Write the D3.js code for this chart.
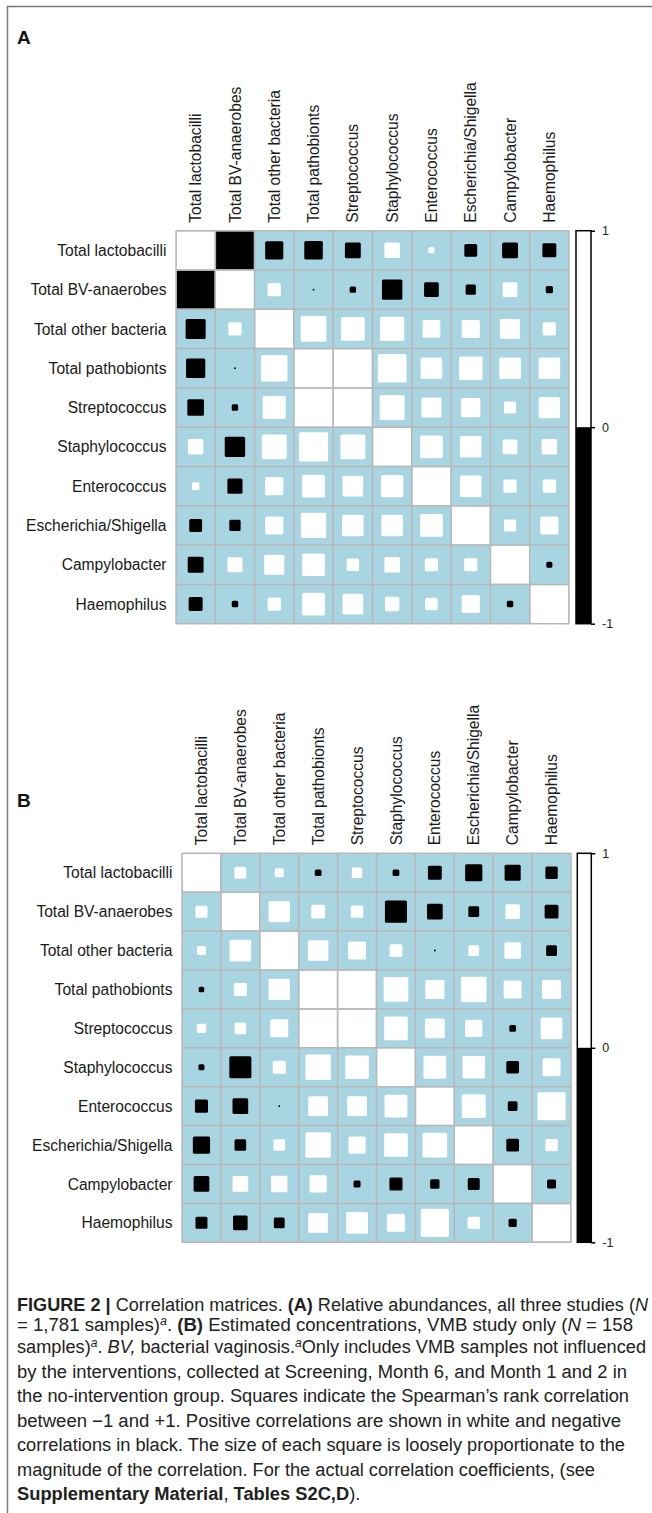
<!DOCTYPE html>
<html><head><meta charset="utf-8">
<script src="https://cdn.jsdelivr.net/npm/d3@7"></script>
<style>body{margin:0;background:#fff} svg{display:block}</style>
</head><body>
<svg id="c" width="652" height="1513"></svg>
<script>
// ---------- data ----------
const taxa = ["Total lactobacilli","Total BV-anaerobes","Total other bacteria","Total pathobionts","Streptococcus","Staphylococcus","Enterococcus","Escherichia/Shigella","Campylobacter","Haemophilus"];

// Panel A: relative abundances (approximate Spearman rho, read from square sizes)
const corrA = [
  [ 1.00,-1.00,-0.48,-0.49,-0.42, 0.41, 0.16,-0.34,-0.42,-0.37],
  [-1.00, 1.00, 0.35,-0.05,-0.17,-0.54,-0.39,-0.27, 0.39,-0.19],
  [-0.53, 0.35, 1.00, 0.68, 0.63, 0.64, 0.47, 0.48, 0.53, 0.35],
  [-0.51,-0.05, 0.70, 1.00, 1.00, 0.76, 0.57, 0.62, 0.57, 0.57],
  [-0.44,-0.17, 0.61, 1.00, 1.00, 0.66, 0.53, 0.51, 0.32, 0.56],
  [ 0.41,-0.54, 0.66, 0.77, 0.66, 1.00, 0.60, 0.57, 0.39, 0.41],
  [ 0.20,-0.40, 0.48, 0.60, 0.55, 0.59, 1.00, 0.57, 0.35, 0.35],
  [-0.34,-0.30, 0.48, 0.67, 0.57, 0.57, 0.60, 1.00, 0.32, 0.48],
  [-0.42, 0.40, 0.53, 0.60, 0.33, 0.41, 0.35, 0.35, 1.00,-0.16],
  [-0.37,-0.17, 0.35, 0.60, 0.55, 0.38, 0.33, 0.48,-0.17, 1.00]
];

// Panel B: estimated concentrations
const corrB = [
  [ 1.00, 0.32, 0.24,-0.18, 0.28,-0.18,-0.37,-0.46,-0.43,-0.33],
  [ 0.32, 1.00, 0.57, 0.37, 0.33,-0.59,-0.42,-0.29, 0.39,-0.37],
  [ 0.24, 0.58, 1.00, 0.55, 0.48, 0.34,-0.05, 0.29, 0.44,-0.29],
  [-0.15, 0.35, 0.57, 1.00, 1.00, 0.66, 0.51, 0.68, 0.48, 0.51],
  [ 0.25, 0.31, 0.48, 1.00, 1.00, 0.63, 0.53, 0.46,-0.18, 0.58],
  [-0.16,-0.59, 0.35, 0.68, 0.63, 1.00, 0.61, 0.60,-0.34, 0.48],
  [-0.35,-0.42,-0.05, 0.53, 0.53, 0.61, 1.00, 0.64,-0.26, 0.75],
  [-0.46,-0.31, 0.31, 0.68, 0.46, 0.63, 0.66, 1.00,-0.34, 0.33],
  [-0.42, 0.42, 0.44, 0.46,-0.19,-0.35,-0.25,-0.32, 1.00,-0.24],
  [-0.32,-0.39,-0.29, 0.53, 0.58, 0.48, 0.75, 0.33,-0.22, 1.00]
];

const legendTicks = [1, 0, -1];
const panelLabels = ["A", "B"];

// caption lines: segments [text, style]  (b = bold, i = italic, s = superscript italic)
const captionLines = [
  [["FIGURE 2 |","b"],[" Correlation matrices. ",""],["(A)","b"],[" Relative abundances, all three studies (",""],["N","i"]],
  [["= 1,781 samples)",""],["a","s"],[". ",""],["(B)","b"],[" Estimated concentrations, VMB study only (",""],["N","i"],[" = 158",""]],
  [["samples)",""],["a","s"],[". ",""],["BV,","i"],[" bacterial vaginosis.",""],["a","s"],["Only includes VMB samples not influenced",""]],
  [["by the interventions, collected at Screening, Month 6, and Month 1 and 2 in",""]],
  [["the no-intervention group. Squares indicate the Spearman\u2019s rank correlation",""]],
  [["between \u22121 and +1. Positive correlations are shown in white and negative",""]],
  [["correlations in black. The size of each square is loosely proportionate to the",""]],
  [["magnitude of the correlation. For the actual correlation coefficients, (see",""]],
  [["Supplementary Material","b"],[", ",""],["Tables S2C,D","b"],[").",""]]
];
const captionEnds = [648, 633, 646, 627, 629, 621, 625, 595, null];
const captionBaselines = [1311, 1331, 1353, 1377.5, 1402, 1426.5, 1451, 1475.5, 1500];

// ---------- drawing ----------
const svg = d3.select("#c");
const FONT = "'Liberation Sans', Arial, Helvetica, sans-serif";

// frame
svg.append("path").attr("d","M7.5,1513 V6.5 H652")
  .attr("fill","none").attr("stroke","#7a7a7a").attr("stroke-width",1.5);

const layouts = [
  {data: corrA, x0:176, y0:230.7, size:393, labelY:44, barX:576, barW:15},
  {data: corrB, x0:182, y0:853.3, size:389, labelY:807, barX:577.3, barW:14}
];

layouts.forEach((L, pi) => {
  const g = svg.append("g");
  g.append("text").attr("x",17).attr("y",L.labelY)
    .attr("font-family",FONT).attr("font-weight","bold").attr("font-size",19)
    .attr("fill","#111").text(panelLabels[pi]);

  const x = d3.scaleBand().domain(d3.range(taxa.length)).range([L.x0, L.x0+L.size]);
  const y = d3.scaleBand().domain(d3.range(taxa.length)).range([L.y0, L.y0+L.size]);
  const bw = x.bandwidth();
  const side = d3.scaleLinear().domain([0,1]).range([0, bw-1.5]);

  const cells = [];
  L.data.forEach((row,i)=>row.forEach((v,j)=>cells.push({i,j,v})));

  // background
  g.append("rect").attr("x",L.x0).attr("y",L.y0).attr("width",L.size).attr("height",L.size)
    .attr("fill","#a9d5e3");

  // squares
  g.selectAll("rect.sq").data(cells).join("rect").attr("class","sq")
    .attr("x", d => x(d.j) + bw/2 - side(Math.abs(d.v))/2)
    .attr("y", d => y(d.i) + bw/2 - side(Math.abs(d.v))/2)
    .attr("width", d => side(Math.abs(d.v)))
    .attr("height", d => side(Math.abs(d.v)))
    .attr("rx", d => Math.abs(d.v) > 0.95 ? 0 : 1.5)
    .attr("fill", d => d.v >= 0 ? "#ffffff" : "#000000");

  // grid lines
  const lines = d3.range(taxa.length+1).map(k => L.x0 + k*bw);
  g.selectAll("line.v").data(lines).join("line").attr("class","v")
    .attr("x1",d=>d).attr("x2",d=>d).attr("y1",L.y0).attr("y2",L.y0+L.size)
    .attr("stroke","#b9b6b6").attr("stroke-width",1.5);
  const hl = d3.range(taxa.length+1).map(k => L.y0 + k*y.bandwidth());
  g.selectAll("line.h").data(hl).join("line").attr("class","h")
    .attr("y1",d=>d).attr("y2",d=>d).attr("x1",L.x0).attr("x2",L.x0+L.size)
    .attr("stroke","#b9b6b6").attr("stroke-width",1.5);

  // row labels
  g.selectAll("text.row").data(taxa).join("text").attr("class","row")
    .attr("x", L.x0 - 9.5).attr("y",(d,i)=>y(i)+bw/2).attr("dy","0.36em")
    .attr("text-anchor","end").attr("font-family",FONT).attr("font-size",15.6)
    .attr("fill","#1a1a1a").text(d=>d);

  // column labels
  g.selectAll("text.col").data(taxa).join("text").attr("class","col")
    .attr("transform",(d,i)=>`translate(${x(i)+bw/2},${L.y0-8}) rotate(-90)`)
    .attr("dy","0.36em").attr("text-anchor","start")
    .attr("font-family",FONT).attr("font-size",15.6).attr("fill","#1a1a1a").text(d=>d);

  // colour bar
  const cb = d3.scaleLinear().domain([-1,1]).range([L.y0+L.size, L.y0]);
  g.append("rect").attr("x",L.barX).attr("y",cb(0)).attr("width",L.barW)
    .attr("height",cb(-1)-cb(0)).attr("fill","#000");
  g.append("rect").attr("x",L.barX).attr("y",cb(1)).attr("width",L.barW)
    .attr("height",cb(-1)-cb(1)).attr("fill","none").attr("stroke","#000").attr("stroke-width",1.5);
  const axis = d3.axisRight(cb).tickValues(legendTicks).tickSize(4).tickPadding(7)
    .tickFormat(d => String(d));
  const ag = g.append("g").attr("transform",`translate(${L.barX+L.barW},0)`).call(axis);
  ag.select(".domain").remove();
  ag.selectAll("line").attr("stroke","#000").attr("stroke-width",1.5);
  ag.selectAll("text").attr("font-family",FONT).attr("font-size",12.5).attr("fill","#222");
});

// caption
const cap = svg.append("g");
const ratios = [];
captionLines.forEach((segs, li) => {
  const t = cap.append("text").attr("x",17).attr("y",captionBaselines[li])
    .attr("font-family",FONT).attr("font-size",18).attr("fill","#222");
  let shifted = false;
  segs.forEach(([txt, st]) => {
    const ts = t.append("tspan").text(txt);
    if (st === "b") ts.attr("font-weight","bold");
    if (st === "i") ts.attr("font-style","italic");
    if (st === "s") { ts.attr("font-style","italic").attr("font-size",12).attr("dy",-6); shifted = true; }
    else if (shifted) { ts.attr("dy",6); shifted = false; }
  });
  const nat = t.node().getComputedTextLength();
  if (captionEnds[li] != null) {
    const target = captionEnds[li] - 17;
    ratios.push(target / nat);
    t.attr("textLength", target).attr("lengthAdjust","spacingAndGlyphs");
  } else {
    const r = d3.mean(ratios);
    t.attr("textLength", nat * r).attr("lengthAdjust","spacingAndGlyphs");
  }
});
</script>
</body></html>
